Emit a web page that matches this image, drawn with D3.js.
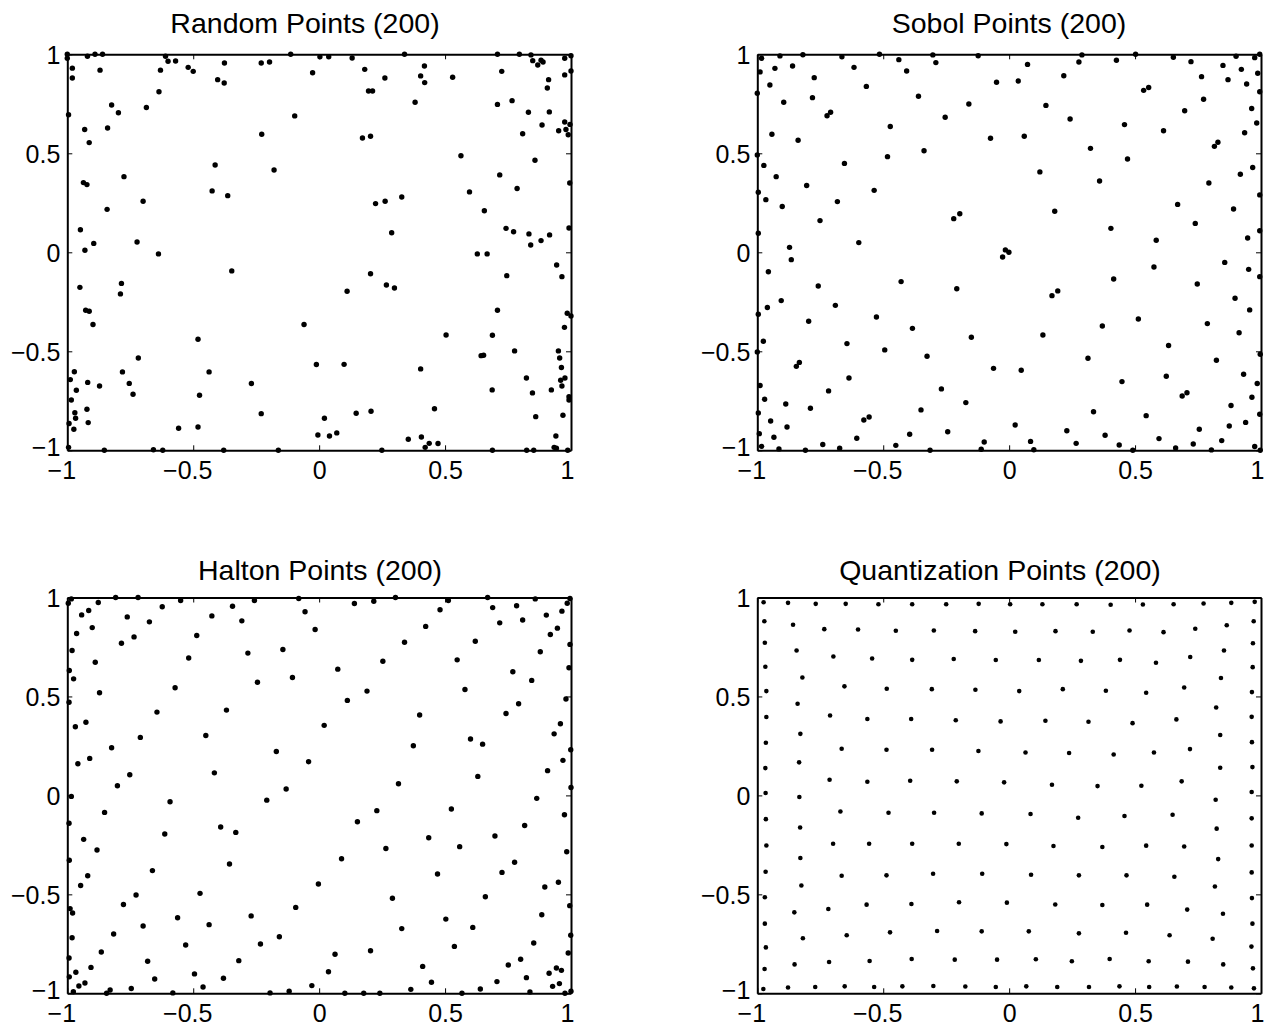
<!DOCTYPE html>
<html>
<head>
<meta charset="utf-8">
<script src="https://cdn.jsdelivr.net/npm/d3@7"></script>
<style>
  html, body { margin: 0; padding: 0; background: #fff; }
  svg { display: block; }
  text { font-family: "Liberation Sans", Arial, Helvetica, sans-serif; fill: #000; }
</style>
</head>
<body>
<svg id="chart" width="1264" height="1026"></svg>
<script>
// panel titles
var titles = ["Random Points (200)", "Sobol Points (200)", "Halton Points (200)", "Quantization Points (200)"];
// ticks shared by every axis
var tickVals = [-1, -0.5, 0, 0.5, 1];
var tickLabels = ["\u22121", "\u22120.5", "0", "0.5", "1"];

// point sets, [x, y]
var randomPts = [
  [-1.00,1.00],[-1.00,0.98],[-0.92,0.99],[-0.89,1.00],[-0.86,1.00],[-0.98,0.93],[-0.98,0.88],[-0.87,0.92],
  [-0.61,0.99],[-0.60,0.965],[-0.57,0.966],[-0.63,0.92],[-0.52,0.934],[-0.50,0.914],[-0.376,0.956],[-0.403,0.872],
  [-0.377,0.855],[-0.23,0.956],[-0.197,0.961],[-0.113,1.00],[-0.026,0.907],[-0.636,0.811],[-0.824,0.744],[-0.797,0.705],
  [-0.686,0.731],[-0.995,0.695],[-0.84,0.628],[-0.931,0.62],[-0.913,0.554],[-0.097,0.689],[-0.228,0.596],[-0.413,0.441],
  [-0.179,0.416],[-0.775,0.382],[-0.936,0.352],[-0.922,0.342],[-0.425,0.31],[-0.363,0.286],[-0.699,0.258],[-0.842,0.217],
  [-0.948,0.114],[-0.895,0.045],[-0.93,0.01],[-0.723,0.052],[-0.638,-0.008],[-0.347,-0.094],[-0.95,-0.177],[-0.785,-0.157],
  [-0.789,-0.21],[-0.927,-0.293],[-0.913,-0.298],[-0.898,-0.365],[-0.06,-0.365],[-0.481,-0.439],[-0.718,-0.534],[-0.011,-0.567],
  [-0.972,-0.603],[-0.988,-0.643],[-0.781,-0.604],[-0.437,-0.604],[-0.919,-0.657],[-0.872,-0.675],[-0.754,-0.662],[-0.964,-0.697],
  [-0.739,-0.717],[-0.475,-0.722],[-0.269,-0.663],[-0.984,-0.746],[-0.97,-0.81],[-0.967,-0.838],[-0.922,-0.793],[-0.917,-0.86],
  [-0.993,-0.865],[-0.23,-0.815],[0.021,-0.838],[-0.974,-0.894],[-0.995,-0.985],[-0.853,-1.0],[-0.658,-0.997],[-0.621,-1.0],
  [-0.379,-1.0],[-0.162,-1.0],[-0.558,-0.889],[-0.481,-0.882],[-0.005,-0.923],
  [0.003,0.987],[0.038,0.988],[0.131,0.981],[0.339,1.0],[0.708,1.0],[0.795,1.0],[0.841,0.997],[0.848,0.968],
  [0.868,0.946],[0.881,0.970],[0.889,0.961],[0.975,0.980],[1.0,0.993],[1.0,0.916],[0.725,0.914],[0.975,0.896],
  [0.181,0.924],[0.261,0.880],[0.418,0.941],[0.403,0.891],[0.419,0.857],[0.530,0.884],[0.911,0.872],[0.906,0.830],
  [0.196,0.815],[0.212,0.815],[0.381,0.758],[0.708,0.747],[0.766,0.766],[0.831,0.707],[0.914,0.709],[0.885,0.643],
  [0.975,0.658],[0.996,0.646],[0.980,0.620],[0.989,0.594],[0.951,0.614],[0.808,0.599],[0.172,0.577],[0.204,0.586],
  [0.563,0.488],[0.857,0.465],[0.717,0.391],[0.995,0.350],[0.786,0.322],[0.597,0.305],[0.656,0.210],[0.224,0.246],
  [0.262,0.258],[0.328,0.279],[0.288,0.099],[0.742,0.121],[0.772,0.104],[0.833,0.093],[0.840,0.037],[0.881,0.059],
  [0.915,0.088],[0.992,0.123],[0.628,-0.008],[0.667,-0.008],[0.943,-0.064],[0.964,-0.123],[0.745,-0.118],[0.204,-0.108],
  [0.267,-0.165],[0.299,-0.180],[0.111,-0.197],[0.708,-0.293],[0.985,-0.308],[1.0,-0.322],[0.974,-0.379],[0.504,-0.418],
  [0.688,-0.419],[0.776,-0.498],[0.643,-0.522],[0.653,-0.520],[0.950,-0.498],[0.955,-0.534],[0.962,-0.582],[0.099,-0.566],
  [0.403,-0.589],[0.823,-0.635],[0.959,-0.646],[0.976,-0.635],[0.964,-0.675],[0.847,-0.710],[0.922,-0.695],[0.687,-0.695],
  [0.992,-0.729],[0.992,-0.746],[0.458,-0.790],[0.147,-0.813],[0.206,-0.803],[0.860,-0.830],[0.968,-0.823],[0.041,-0.928],
  [0.070,-0.912],[0.354,-0.944],[0.406,-0.933],[0.437,-0.965],[0.421,-0.985],[0.472,-0.966],[0.940,-0.928],[0.933,-0.985],
  [0.942,-0.990],[0.249,-1.0],[0.688,-1.0],[0.824,-1.0],[0.852,-1.0],[0.987,-1.0]
];

var sobolPts = [
  [-0.983,0.980],[-0.989,0.911],[-0.910,0.992],[-0.819,0.998],[-0.664,0.987],[-0.515,1.0],[-0.303,0.997],[-0.123,0.993],
  [-0.930,0.929],[-0.860,0.941],[-0.616,0.934],[-0.438,0.973],[-0.407,0.916],[-0.291,0.958],[-0.774,0.882],[-0.950,0.845],
  [-0.050,0.859],[-0.567,0.838],[-1.0,0.803],[-0.360,0.788],[-0.781,0.781],[-0.895,0.758],[-0.160,0.749],[-0.723,0.690],
  [-0.709,0.707],[-0.254,0.682],[-0.472,0.635],[-0.942,0.596],[-0.074,0.576],[-0.838,0.566],[-0.338,0.513],[-1.0,0.492],
  [-0.483,0.483],[-0.654,0.449],[-0.974,0.439],[-0.925,0.382],[-0.804,0.337],[-0.536,0.313],[-0.996,0.303],[-0.966,0.266],
  [-0.682,0.256],[-0.901,0.231],[-0.220,0.170],[-0.196,0.195],[-0.751,0.160],[-0.996,0.096],[-0.597,0.049],[-0.872,0.025],
  [-0.865,-0.037],[-0.015,0.012],[-0.001,0.0],[-0.026,-0.024],[-0.956,-0.098],[-0.429,-0.148],[-0.758,-0.170],[-0.208,-0.184],
  [-0.905,-0.244],[-0.960,-0.279],[-0.690,-0.268],[-0.996,-0.313],[-0.527,-0.327],[-0.796,-0.348],[-0.384,-0.384],[-0.150,-0.429],
  [-0.976,-0.449],[-0.644,-0.461],[-1.0,-0.503],[-0.494,-0.493],[-0.326,-0.525],[-0.833,-0.556],[-0.845,-0.576],[-0.062,-0.586],
  [-0.636,-0.635],[-0.989,-0.673],[-0.269,-0.690],[-0.717,-0.700],[-0.971,-0.742],[-0.887,-0.766],[-0.172,-0.759],[-0.789,-0.788],
  [-0.350,-0.796],[-0.996,-0.811],[-0.577,-0.847],[-0.556,-0.832],[-0.947,-0.852],[-0.882,-0.882],[-0.244,-0.906],[-0.992,-0.916],
  [-0.395,-0.919],[-0.934,-0.934],[-0.605,-0.939],[-0.099,-0.958],[-0.983,-0.980],[-0.914,-0.993],[-0.809,-1.0],[-0.740,-0.971],
  [-0.673,-0.990],[-0.450,-0.975],[-0.314,-1.0],[-0.111,-0.995],
  [0.073,0.949],[0.289,0.997],[0.277,0.961],[0.426,0.970],[0.502,1.0],[0.652,0.985],[0.722,0.963],[0.901,0.990],
  [0.975,0.983],[0.995,1.0],[0.849,0.944],[0.922,0.924],[0.987,0.904],[0.036,0.865],[0.217,0.892],[0.764,0.887],
  [0.869,0.872],[0.943,0.850],[0.995,0.811],[0.534,0.818],[0.554,0.832],[0.772,0.773],[0.146,0.742],[0.697,0.715],
  [0.963,0.726],[0.242,0.673],[0.458,0.645],[0.983,0.653],[0.613,0.614],[0.935,0.604],[0.060,0.586],[0.815,0.535],
  [0.829,0.556],[0.323,0.525],[0.470,0.471],[0.967,0.428],[0.122,0.406],[0.918,0.394],[0.359,0.360],[0.793,0.350],
  [0.995,0.290],[0.669,0.242],[0.891,0.219],[0.181,0.207],[0.739,0.146],[0.404,0.121],[0.995,0.109],[0.947,0.072],
  [0.584,0.061],[0.856,-0.051],[0.575,-0.074],[0.951,-0.086],[0.995,-0.123],[0.415,-0.135],[0.747,-0.160],[0.193,-0.195],
  [0.170,-0.219],[0.897,-0.232],[0.955,-0.291],[0.513,-0.337],[0.787,-0.360],[0.370,-0.372],[0.913,-0.406],[0.134,-0.418],
  [0.633,-0.471],[0.997,-0.515],[0.313,-0.535],[0.823,-0.545],[0.048,-0.596],[0.931,-0.616],[0.624,-0.626],[0.448,-0.653],
  [0.985,-0.663],[0.687,-0.726],[0.706,-0.709],[0.964,-0.732],[0.881,-0.774],[0.335,-0.805],[0.995,-0.818],[0.544,-0.825],
  [0.024,-0.872],[0.939,-0.859],[0.874,-0.877],[0.229,-0.901],[0.755,-0.894],[0.381,-0.924],[0.085,-0.955],[0.266,-0.965],
  [0.437,-0.973],[0.595,-0.941],[0.731,-0.968],[0.844,-0.951],[0.098,-0.997],[0.491,-1.0],[0.661,-0.988],[0.803,-0.998],
  [0.975,-0.981],[0.997,-1.0]
];

var haltonPts = [
  [-0.996,0.971],[-0.984,0.993],[-0.808,1.0],[-0.719,1.0],[-0.550,0.985],[-0.257,0.985],[-0.081,0.995],[-0.877,0.975],
  [-0.915,0.934],[-0.943,0.912],[-0.623,0.953],[-0.344,0.956],[-0.056,0.928],[-0.762,0.902],[-0.426,0.907],[-0.307,0.882],
  [-0.674,0.877],[-0.901,0.848],[-0.016,0.838],[-0.963,0.818],[-0.486,0.808],[-0.735,0.801],[-0.785,0.769],[-0.981,0.732],
  [-0.144,0.737],[-0.283,0.719],[-0.518,0.694],[-0.889,0.673],[-0.992,0.631],[-0.975,0.589],[-0.106,0.596],[-0.245,0.572],
  [-0.572,0.544],[-0.872,0.519],[-0.993,0.471],[-0.644,0.421],[-0.368,0.431],[-0.926,0.370],[-0.968,0.347],[0.020,0.354],
  [-0.450,0.303],[-0.710,0.293],[-0.824,0.241],[-0.170,0.222],[-0.042,0.170],[-0.911,0.187],[-0.958,0.160],[-0.416,0.114],
  [-0.752,0.104],[-0.801,0.049],[-0.131,0.032],[-0.984,-0.005],[-0.208,-0.024],[-0.592,-0.032],[-0.852,-0.086],[-0.993,-0.141],
  [-0.391,-0.160],[-0.331,-0.187],[-0.613,-0.195],[-0.935,-0.222],[-0.882,-0.276],[-0.992,-0.328],[-0.356,-0.347],[-0.662,-0.380],
  [-0.919,-0.406],[-0.947,-0.455],[-0.003,-0.448],[-0.473,-0.495],[-0.727,-0.503],[-0.989,-0.572],[-0.979,-0.594],[-0.777,-0.551],
  [-0.093,-0.566],[-0.562,-0.618],[-0.270,-0.609],[-0.437,-0.653],[-0.699,-0.660],[-0.816,-0.700],[-0.981,-0.719],[-0.158,-0.714],
  [-0.530,-0.756],[-0.233,-0.751],[-0.865,-0.791],[-0.993,-0.822],[-0.681,-0.838],[-0.319,-0.835],[-0.906,-0.869],[-0.966,-0.894],
  [-0.495,-0.902],[-0.992,-0.917],[-0.653,-0.928],[-0.380,-0.924],[-0.930,-0.948],[-0.954,-0.963],[-0.976,-0.992],[-0.844,-1.0],
  [-0.830,-0.983],[-0.746,-0.976],[-0.581,-0.998],[-0.461,-0.968],[-0.195,-0.998],[-0.119,-0.990],[-0.029,-0.961],
  [0.140,0.970],[0.217,0.981],[0.303,1.0],[0.513,0.985],[0.669,1.0],[0.858,0.993],[0.996,0.995],[0.985,0.971],
  [0.689,0.949],[0.784,0.958],[0.480,0.938],[0.964,0.931],[0.902,0.911],[0.808,0.886],[0.717,0.872],[0.423,0.854],
  [0.946,0.845],[0.918,0.813],[0.620,0.779],[0.339,0.774],[0.996,0.763],[0.878,0.726],[0.548,0.685],[0.253,0.678],
  [0.074,0.638],[0.992,0.645],[0.769,0.625],[0.844,0.581],[0.579,0.535],[0.190,0.527],[0.112,0.480],[0.980,0.487],
  [0.792,0.463],[0.742,0.414],[0.399,0.406],[0.958,0.362],[0.933,0.311],[0.601,0.285],[0.649,0.259],[0.374,0.251],
  [0.999,0.231],[0.968,0.177],[0.907,0.125],[0.630,0.096],[0.315,0.059],[1.0,0.040],[0.864,-0.015],[0.525,-0.069],
  [0.229,-0.077],[0.974,-0.098],[0.152,-0.133],[0.816,-0.152],[0.698,-0.205],[0.435,-0.214],[0.558,-0.259],[0.265,-0.268],
  [0.983,-0.285],[0.089,-0.320],[0.776,-0.338],[0.726,-0.389],[0.470,-0.397],[0.950,-0.439],[0.896,-0.463],[0.660,-0.512],
  [0.291,-0.520],[0.995,-0.557],[0.884,-0.603],[0.503,-0.625],[0.610,-0.667],[0.328,-0.673],[0.999,-0.707],[0.852,-0.746],
  [0.537,-0.763],[0.204,-0.785],[0.063,-0.803],[0.989,-0.796],[0.800,-0.828],[0.751,-0.857],[0.411,-0.864],[0.942,-0.872],
  [0.962,-0.884],[0.037,-0.891],[0.913,-0.899],[0.823,-0.921],[0.706,-0.941],[0.446,-0.944],[0.954,-0.951],[0.927,-0.965],
  [0.364,-0.980],[0.640,-0.978],[0.102,-1.0],[0.177,-1.0],[0.241,-1.0],[0.567,-1.0],[0.837,-0.993],[0.976,-1.0],
  [1.0,-0.990]
];

var quantPts = [
  [-0.975,0.976],[-0.878,0.973],[-0.768,0.968],[-0.649,0.968],[-0.519,0.966],[-0.385,0.966],[-0.25,0.966],[-0.121,0.968],
  [0.004,0.966],[0.132,0.966],[0.268,0.966],[0.403,0.963],[0.531,0.965],[0.653,0.966],[0.772,0.970],[0.882,0.973],[0.975,0.978],
  [-0.972,0.88],[-0.858,0.862],[-0.734,0.84],[-0.6,0.838],[-0.45,0.832],[-0.299,0.833],[-0.135,0.83],[0.024,0.827],
  [0.184,0.83],[0.332,0.827],[0.478,0.833],[0.613,0.825],[0.739,0.842],[0.864,0.86],[0.971,0.88],
  [-0.97,0.771],[-0.844,0.732],[-0.698,0.702],[-0.544,0.692],[-0.385,0.685],[-0.22,0.689],[-0.053,0.684],[0.118,0.684],
  [0.285,0.68],[0.44,0.685],[0.583,0.67],[0.719,0.699],[0.853,0.732],[0.968,0.769],
  [-0.968,0.65],[-0.821,0.596],[-0.654,0.551],[-0.486,0.539],[-0.307,0.537],[-0.134,0.534],[0.04,0.527],[0.213,0.537],
  [0.384,0.529],[0.544,0.519],[0.695,0.545],[0.841,0.593],[0.967,0.648],
  [-0.964,0.527],[-0.964,0.396],[-0.966,0.266],[-0.968,0.138],[-0.967,0.012],[-0.966,-0.12],[-0.964,-0.253],[-0.967,-0.386],
  [-0.97,-0.515],[-0.97,-0.648],[-0.966,-0.768],[-0.971,-0.877],
  [0.964,0.522],[0.963,0.397],[0.964,0.269],[0.966,0.143],[0.963,0.017],[0.963,-0.116],[0.963,-0.253],[0.963,-0.389],
  [0.964,-0.519],[0.966,-0.648],[0.962,-0.764],[0.968,-0.874],
  [-0.84,0.463],[-0.711,0.404],[-0.563,0.386],[-0.389,0.386],[-0.212,0.38],[-0.034,0.374],[0.144,0.377],[0.315,0.372],
  [0.49,0.365],[0.664,0.384],[0.822,0.444],
  [-0.829,0.311],[-0.665,0.236],[-0.487,0.231],[-0.306,0.231],[-0.122,0.224],[0.065,0.217],[0.238,0.214],[0.415,0.207],
  [0.575,0.217],[0.718,0.234],[0.838,0.305],
  [-0.834,0.167],[-0.713,0.079],[-0.563,0.069],[-0.393,0.074],[-0.208,0.071],[-0.02,0.066],[0.17,0.054],[0.351,0.047],
  [0.525,0.049],[0.685,0.071],[0.838,0.14],[0.82,-0.022],
  [-0.833,-0.008],[-0.67,-0.081],[-0.479,-0.088],[-0.298,-0.088],[-0.109,-0.091],[0.085,-0.094],[0.274,-0.113],[0.458,-0.104],
  [0.649,-0.098],[0.824,-0.168],
  [-0.83,-0.162],[-0.699,-0.244],[-0.556,-0.244],[-0.385,-0.244],[-0.2,-0.244],[-0.011,-0.246],[0.176,-0.256],[0.37,-0.261],
  [0.544,-0.254],[0.695,-0.258],[0.83,-0.322],
  [-0.829,-0.316],[-0.665,-0.406],[-0.487,-0.404],[-0.302,-0.396],[-0.107,-0.396],[0.087,-0.401],[0.277,-0.404],[0.466,-0.404],
  [0.656,-0.411],[0.817,-0.46],
  [-0.825,-0.455],[-0.853,-0.591],[-0.718,-0.574],[-0.566,-0.552],[-0.388,-0.549],[-0.199,-0.54],[-0.009,-0.542],[0.183,-0.551],
  [0.37,-0.554],[0.548,-0.552],[0.707,-0.577],[0.849,-0.598],
  [-0.819,-0.722],[-0.645,-0.707],[-0.473,-0.692],[-0.286,-0.685],[-0.109,-0.687],[0.078,-0.687],[0.277,-0.697],[0.464,-0.694],
  [0.637,-0.707],[0.808,-0.724],
  [-0.852,-0.854],[-0.715,-0.842],[-0.554,-0.837],[-0.387,-0.827],[-0.216,-0.83],[-0.048,-0.83],[0.106,-0.828],[0.249,-0.838],
  [0.399,-0.827],[0.554,-0.838],[0.71,-0.84],[0.85,-0.854],
  [-0.976,-0.978],[-0.878,-0.971],[-0.77,-0.968],[-0.653,-0.965],[-0.536,-0.968],[-0.424,-0.965],[-0.301,-0.963],[-0.174,-0.966],
  [-0.053,-0.968],[0.068,-0.965],[0.191,-0.968],[0.317,-0.968],[0.438,-0.965],[0.556,-0.968],[0.666,-0.966],[0.776,-0.968],
  [0.882,-0.971],[0.972,-0.975]
];

var svg = d3.select("#chart");

//panel frames: box in pixels, title centre and baseline, dot radius
var panels = [
  {pts: randomPts, x0: 67.3, x1: 571, y0: 54.3, y1: 450.3, tx: 305, ty: 32.5, r: 2.7},
  {pts: sobolPts, x0: 757.3, x1: 1261, y0: 54.3, y1: 450.3, tx: 1009, ty: 33, r: 2.7},
  {pts: haltonPts, x0: 67.3, x1: 571, y0: 597.5, y1: 993.3, tx: 320, ty: 580, r: 2.7},
  {pts: quantPts, x0: 757.3, x1: 1261, y0: 597.5, y1: 993.3, tx: 1000, ty: 580, r: 2.3}
];

function fmt(d) { return tickLabels[tickVals.indexOf(d)]; }

//label nudges so the end labels sit like the original
function labelShift(d) {
    if (d < 0) return -6;
    if (d === 1) return -4;
    return 0;
}

panels.forEach(function(p, i) {
    var x = d3.scaleLinear().domain([-1, 1]).range([p.x0, p.x1]);
    var y = d3.scaleLinear().domain([-1, 1]).range([p.y1, p.y0]);
    var g = svg.append("g");

    //bottom axis with labels, ticks pointing inward
    var bottom = g.append("g")
        .attr("transform", "translate(0," + p.y1 + ")")
        .call(d3.axisBottom(x).tickValues(tickVals).tickSizeInner(-5).tickSizeOuter(0).tickPadding(11).tickFormat(fmt));
    bottom.selectAll("text")
        .attr("dx", labelShift);

    var left = g.append("g")
        .attr("transform", "translate(" + p.x0 + ",0)")
        .call(d3.axisLeft(y).tickValues(tickVals).tickSizeInner(-5).tickSizeOuter(0).tickPadding(7).tickFormat(fmt));
    left.selectAll("text")
        .attr("dy", function(d) { return d === -1 ? "0.2em" : "0.36em"; });

    g.append("g")
        .attr("transform", "translate(0," + p.y0 + ")")
        .call(d3.axisTop(x).tickValues(tickVals).tickSizeInner(-5).tickSizeOuter(0).tickFormat(""));
    g.append("g")
        .attr("transform", "translate(" + p.x1 + ",0)")
        .call(d3.axisRight(y).tickValues(tickVals).tickSizeInner(-5).tickSizeOuter(0).tickFormat(""));

    g.selectAll(".domain").attr("stroke", "#000").attr("stroke-width", 2);
    g.selectAll(".tick line").attr("stroke", "#000").attr("stroke-width", 1);
    g.selectAll(".tick text")
        .attr("font-family", "'Liberation Sans', Arial, Helvetica, sans-serif")
        .attr("font-size", 25)
        .attr("fill", "#000");

    g.append("text")
        .attr("x", p.tx)
        .attr("y", p.ty)
        .attr("text-anchor", "middle")
        .attr("font-size", 28.5)
        .text(titles[i]);

    g.append("g").selectAll("circle")
        .data(p.pts)
        .enter().append("circle")
        .attr("cx", function(d) { return x(d[0]); })
        .attr("cy", function(d) { return y(d[1]); })
        .attr("r", p.r)
        .attr("fill", "#000");
});
</script>
</body>
</html>
